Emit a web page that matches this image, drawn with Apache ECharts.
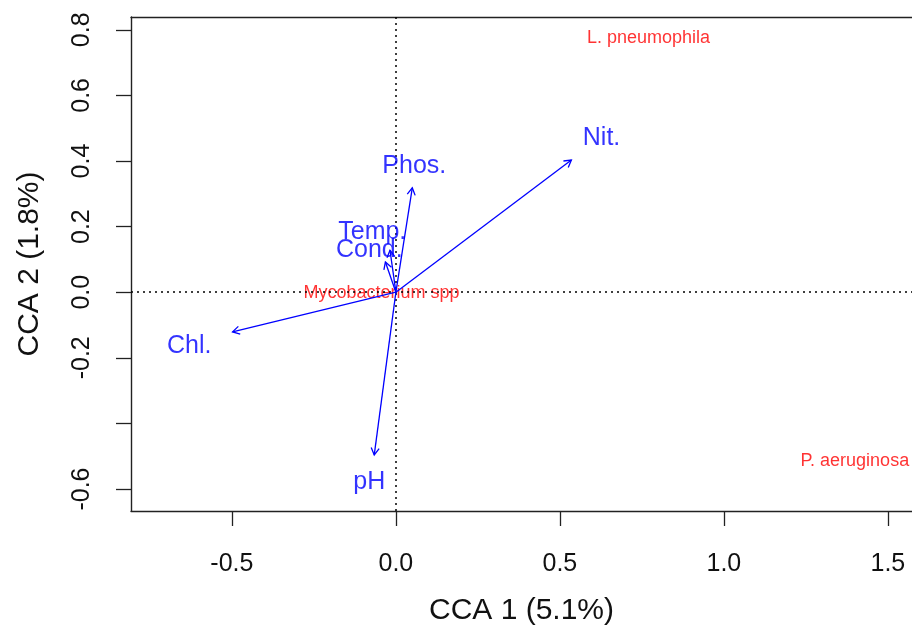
<!DOCTYPE html>
<html>
<head>
<meta charset="utf-8">
<script src="https://cdn.jsdelivr.net/npm/echarts@6.0.0/dist/echarts.min.js"></script>
<style>
html,body{margin:0;padding:0;background:#fff;}
#chart{width:912px;height:635px;}
</style>
</head>
<body>
<div id="chart"></div>
<script>
// ---- data ----
const xTickValues = [-0.5, 0.0, 0.5, 1.0, 1.5];
const yTickValues = [0.8, 0.6, 0.4, 0.2, 0.0, -0.2, -0.4, -0.6];
const yLabelValues = [0.8, 0.6, 0.4, 0.2, 0.0, -0.2, -0.6];

const envNames = ['Nit.', 'Phos.', 'Temp.', 'Cond.', 'Chl.', 'pH'];
const envArrowX = [0.535, 0.050, -0.018, -0.032, -0.498, -0.066];
const envArrowY = [0.403, 0.318, 0.128, 0.092, -0.121, -0.496];
const envLabelX = [0.627, 0.056, -0.072, -0.081, -0.630, -0.081];
const envLabelY = [0.470, 0.385, 0.184, 0.129, -0.163, -0.578];

const speciesNames = ['L. pneumophila', 'P. aeruginosa', 'Mycobacterium spp'];
const speciesX = [0.770, 1.399, -0.044];
const speciesY = [0.775, -0.514, -0.004];

const xTitle = 'CCA 1 (5.1%)';
const yTitle = 'CCA 2 (1.8%)';

// ---- chart ----
const FONT = "'Liberation Sans', Arial, sans-serif";
const BLUE = '#0000ff';
const RED = '#ff0000';
const X_MIN = -0.8076, X_MAX = 1.5735, Y_MIN = -0.667, Y_MAX = 0.839;
const chart = echarts.init(document.getElementById('chart'), null, {renderer: 'canvas'});

const arrowData = envNames.map((n, i) => [envArrowX[i], envArrowY[i], n]);
const envLabelData = envNames.map((n, i) => [envLabelX[i], envLabelY[i], n]);
const speciesData = speciesNames.map((n, i) => [speciesX[i], speciesY[i], n]);

const boxLine = {show: true, onZero: false, lineStyle: {color: '#222', width: 1.4}};

const option = {
  animation: false,
  backgroundColor: '#fff',
  grid: {left: 131, top: 17, right: 0, bottom: 124, show: false},
  xAxis: [{
    type: 'value', min: X_MIN, max: X_MAX, position: 'bottom',
    name: xTitle, nameLocation: 'middle', nameGap: 85,
    nameTextStyle: {fontFamily: FONT, fontSize: 30, color: '#111'},
    axisLine: boxLine,
    axisTick: {show: true, length: 15, customValues: xTickValues, lineStyle: {color: '#222', width: 1.3}},
    axisLabel: {
      customValues: xTickValues, margin: 41, fontFamily: FONT, fontSize: 25, color: '#111',
      formatter: v => Number(v).toFixed(1)
    },
    splitLine: {show: false}
  }, {
    type: 'value', min: X_MIN, max: X_MAX, position: 'top',
    axisLine: boxLine, axisTick: {show: false}, axisLabel: {show: false}, splitLine: {show: false}
  }],
  yAxis: {
    type: 'value', min: Y_MIN, max: Y_MAX, position: 'left',
    name: yTitle, nameLocation: 'middle', nameGap: 86,
    nameTextStyle: {fontFamily: FONT, fontSize: 30, color: '#111'},
    axisLine: boxLine,
    axisTick: {show: true, length: 15, customValues: yTickValues, lineStyle: {color: '#222', width: 1.3}},
    axisLabel: {
      customValues: yLabelValues, rotate: 90, margin: 36, fontFamily: FONT, fontSize: 25, color: '#111',
      formatter: v => Number(v).toFixed(1)
    },
    splitLine: {show: false}
  },
  series: [
    {
      type: 'scatter', data: speciesData, symbolSize: 1, z: 2,
      itemStyle: {color: 'transparent'},
      label: {
        show: true, position: 'inside', formatter: p => p.data[2],
        fontFamily: FONT, fontSize: 18, color: RED
      },
      markLine: {
        silent: true, symbol: ['none', 'none'], animation: false,
        label: {show: false},
        lineStyle: {type: [2, 4], color: '#000', width: 1.5},
        data: [{xAxis: 0}, {yAxis: 0}]
      }
    },
    {
      type: 'custom', data: arrowData, z: 5,
      renderItem: function (params, api) {
        const o = api.coord([0, 0]);
        const e = api.coord([api.value(0), api.value(1)]);
        const ang = Math.atan2(e[1] - o[1], e[0] - o[0]);
        const L = 8, a = Math.PI / 6;
        const h1 = [e[0] - L * Math.cos(ang - a), e[1] - L * Math.sin(ang - a)];
        const h2 = [e[0] - L * Math.cos(ang + a), e[1] - L * Math.sin(ang + a)];
        return {
          type: 'group',
          children: [
            {type: 'line', shape: {x1: o[0], y1: o[1], x2: e[0], y2: e[1]},
             style: {stroke: BLUE, lineWidth: 1.3}},
            {type: 'polyline', shape: {points: [h1, e, h2]},
             style: {stroke: BLUE, lineWidth: 1.3, fill: null}}
          ]
        };
      }
    },
    {
      type: 'scatter', data: envLabelData, symbolSize: 1, z: 6,
      itemStyle: {color: 'transparent'},
      label: {
        show: true, position: 'inside', formatter: p => p.data[2],
        fontFamily: FONT, fontSize: 25, color: BLUE
      }
    }
  ]
};
chart.setOption(option);
</script>
</body>
</html>
